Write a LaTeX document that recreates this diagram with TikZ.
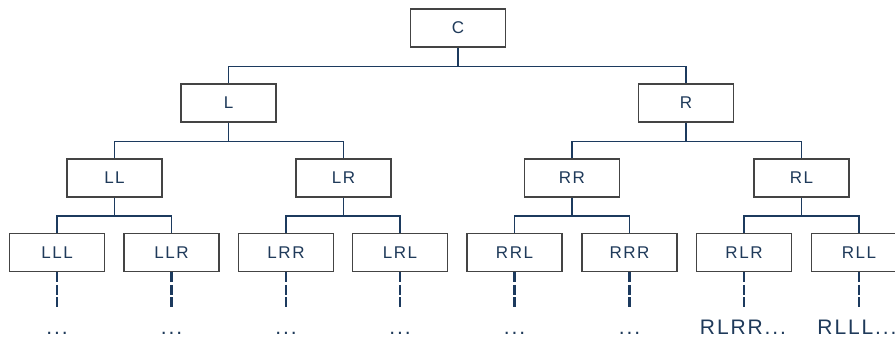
\documentclass[tikz,border=0pt]{standalone}
\usepackage{fontspec}
\setmainfont{Liberation Sans}[LetterSpace=9]
\definecolor{navy}{HTML}{1C3A5E}
\definecolor{txt}{HTML}{1F3A5A}
\definecolor{border}{HTML}{444444}
\tikzset{
  box/.style={draw=border, line width=1.6pt, fill=white, minimum width=95pt, minimum height=38pt,
    inner sep=0pt, text=txt, font=\fontsize{17}{19}\selectfont},
  conn/.style={draw=navy, line width=1.6pt},
  dashln/.style={draw=navy, line width=2.6pt, dash pattern=on 10pt off 2.5pt},
  tail/.style={anchor=base, text=txt, inner sep=0pt, font=\fontsize{21}{23}\selectfont}
}
\begin{document}
\begin{tikzpicture}[x=1pt, y=-1pt]
\clip (0,0) rectangle (895,341);
\fill[white] (0,0) rectangle (895,341);
% nodes
\node[box] (C) at (458,28) {C};
\node[box] (L) at (228.5,103) {L};
\node[box] (R) at (686,103) {R};
\node[box] (LL) at (114.5,178) {LL};
\node[box] (LR) at (343.5,178) {LR};
\node[box] (RR) at (572,178) {RR};
\node[box] (RL) at (801.5,178) {RL};
\node[box] (LLL) at (57,252.5) {LLL};
\node[box] (LLR) at (171.5,252.5) {LLR};
\node[box] (LRR) at (286,252.5) {LRR};
\node[box] (LRL) at (400,252.5) {LRL};
\node[box] (RRL) at (514.5,252.5) {RRL};
\node[box] (RRR) at (629.5,252.5) {RRR};
\node[box] (RLR) at (744,252.5) {RLR};
\node[box] (RLL) at (859,252.5) {RLL};
% connectors
\draw[conn] (C.south) -- ++(0,18.5) -| (L.north);
\draw[conn] (C.south) -- ++(0,18.5) -| (R.north);
\draw[conn] (L.south) -- ++(0,18.5) -| (LL.north);
\draw[conn] (L.south) -- ++(0,18.5) -| (LR.north);
\draw[conn] (R.south) -- ++(0,18.5) -| (RR.north);
\draw[conn] (R.south) -- ++(0,18.5) -| (RL.north);
\draw[conn] (LL.south) -- ++(0,18) -| (LLL.north);
\draw[conn] (LL.south) -- ++(0,18) -| (LLR.north);
\draw[conn] (LR.south) -- ++(0,18) -| (LRR.north);
\draw[conn] (LR.south) -- ++(0,18) -| (LRL.north);
\draw[conn] (RR.south) -- ++(0,18) -| (RRL.north);
\draw[conn] (RR.south) -- ++(0,18) -| (RRR.north);
\draw[conn] (RL.south) -- ++(0,18) -| (RLR.north);
\draw[conn] (RL.south) -- ++(0,18) -| (RLL.north);
% dashed continuations and tails
\foreach \n in {LLL,LLR,LRR,LRL,RRL,RRR,RLR,RLL}{
  \draw[dashln] (\n.south) -- ++(0,35);
}
\node[tail] (tLLL) at (57,334) {...};
\node[tail] (tLLR) at (171.5,334) {...};
\node[tail] (tLRR) at (286,334) {...};
\node[tail] (tLRL) at (400,334) {...};
\node[tail] (tRRL) at (514.5,334) {...};
\node[tail] (tRRR) at (629.5,334) {...};
\node[tail] (tRLR) at (743,334) {RLRR...};
\node[tail] (tRLL) at (857,334) {RLLL...};
\end{tikzpicture}
\end{document}
